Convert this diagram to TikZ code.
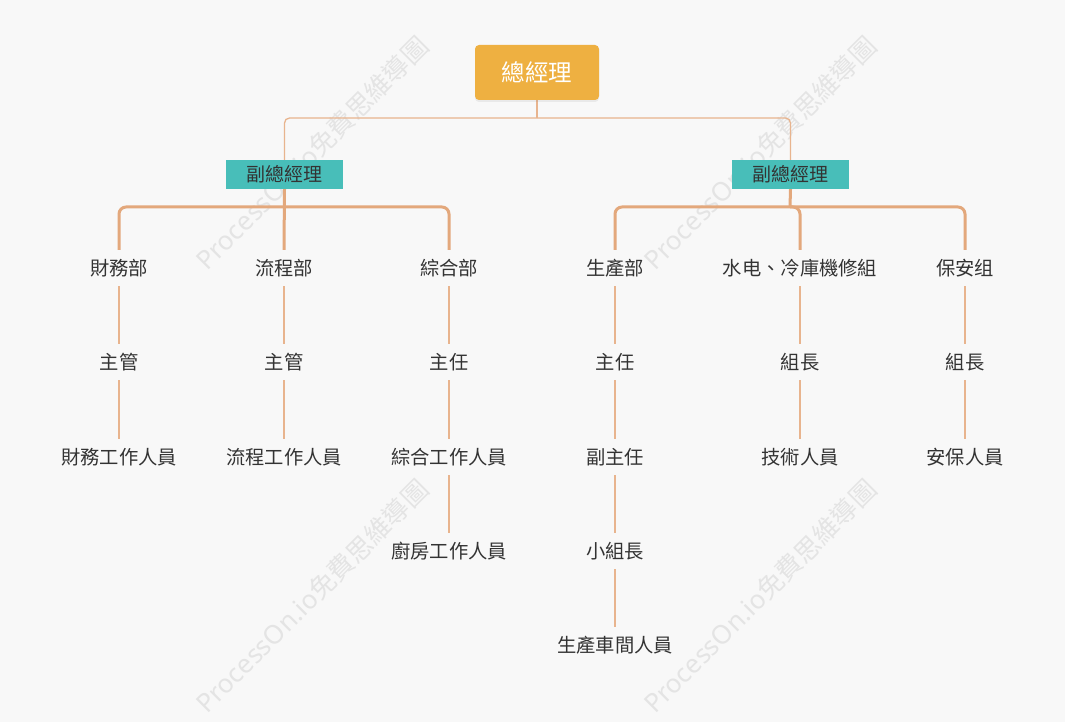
\documentclass[tikz,border=0pt]{standalone}
\usepackage{fontspec}
\newfontfamily\cjk{Noto Sans CJK TC}
\usetikzlibrary{shadows,backgrounds}
\definecolor{bg}{RGB}{248,248,248}
\definecolor{rootc}{RGB}{238,176,65}
\definecolor{vpc}{RGB}{72,190,185}
\definecolor{txt}{RGB}{51,51,51}
\definecolor{lnthin}{RGB}{232,180,142}
\definecolor{lnthick}{RGB}{227,168,124}
\definecolor{wm}{RGB}{228,228,228}
\begin{document}
\begin{tikzpicture}[x=1pt,y=1pt,
  lbl/.style={font=\cjk\fontsize{19.3}{19.3}\selectfont, text=txt, inner sep=0pt, minimum height=36pt},
  rootbox/.style={fill=rootc, rounded corners=4pt, minimum width=124pt, minimum height=55pt, inner sep=0pt,
    text=white, font=\cjk\fontsize{23.5}{23.5}\selectfont,
    drop shadow={opacity=0.12, shadow xshift=0pt, shadow yshift=-2pt}},
  vpbox/.style={fill=vpc, minimum width=117pt, minimum height=29pt, inner sep=0pt,
    text=txt, font=\cjk\fontsize{19}{19}\selectfont},
  thinln/.style={draw=lnthin, line width=1.3pt, rounded corners=5pt},
  thickln/.style={draw=lnthick, line width=3pt, rounded corners=7pt},
  wmark/.style={text=wm, font=\fontspec{Noto Sans}\fontsize{26}{26}\selectfont, rotate=45, inner sep=0pt}
]
\useasboundingbox (0,0) rectangle (1065,-722);

% nodes
\node[rootbox] (root) at (537,-72.5) {總經理};
\node[vpbox] (vpL) at (284.5,-174.5) {副總經理};
\node[vpbox] (vpR) at (790.5,-174.5) {副總經理};

\node[lbl] (d1) at (119,-268) {財務部};
\node[lbl] (d2) at (284,-268) {流程部};
\node[lbl] (d3) at (449,-268) {綜合部};
\node[lbl] (d4) at (615,-268) {生產部};
\node[lbl] (d5) at (800,-268) {水电、冷庫機修組};
\node[lbl] (d6) at (965,-268) {保安组};

\node[lbl] (m1) at (119,-362) {主管};
\node[lbl] (m2) at (284,-362) {主管};
\node[lbl] (m3) at (449,-362) {主任};
\node[lbl] (m4) at (615,-362) {主任};
\node[lbl] (m5) at (800,-362) {組長};
\node[lbl] (m6) at (965,-362) {組長};

\node[lbl] (s1) at (119,-457) {財務工作人員};
\node[lbl] (s2) at (284,-457) {流程工作人員};
\node[lbl] (s3) at (449,-457) {綜合工作人員};
\node[lbl] (s4) at (615,-457) {副主任};
\node[lbl] (s5) at (800,-457) {技術人員};
\node[lbl] (s6) at (965,-457) {安保人員};

\node[lbl] (k3) at (449,-551) {廚房工作人員};
\node[lbl] (k4) at (615,-551) {小組長};

\node[lbl] (p4) at (615,-645) {生產車間人員};

\coordinate (j) at (537,-118);
\coordinate (bL) at (284,-207);
\coordinate (bR) at (790,-207);

\begin{scope}[on background layer]
  \fill[bg] (0,0) rectangle (1065,-722);
  \node[wmark] (w1) at (312,-153) {ProcessOn.io\cjk 免費思維導圖};
  \node[wmark] (w2) at (760,-153) {ProcessOn.io\cjk 免費思維導圖};
  \node[wmark] (w3) at (312,-596) {ProcessOn.io\cjk 免費思維導圖};
  \node[wmark] (w4) at (760,-596) {ProcessOn.io\cjk 免費思維導圖};

  % root to VPs
  \draw[thinln] (root.south) -- (j);
  \draw[thinln] (j) -| (vpL.north);
  \draw[thinln] (j) -| (vpR.north);

  % VP left to departments
  \draw[thickln] (vpL.south) -- (d2.north);
  \draw[thickln] (bL) -| (d1.north);
  \draw[thickln] (bL) -| (d3.north);
  % VP right to departments
  \draw[thickln] (vpR.south) -- (bR);
  \draw[thickln] (bR) -| (d4.north);
  \draw[thickln] (bR) -| (d5.north);
  \draw[thickln] (bR) -| (d6.north);

  % chains
  \draw[thinln] (d1.south) -- (m1.north);
  \draw[thinln] (m1.south) -- (s1.north);
  \draw[thinln] (d2.south) -- (m2.north);
  \draw[thinln] (m2.south) -- (s2.north);
  \draw[thinln] (d3.south) -- (m3.north);
  \draw[thinln] (m3.south) -- (s3.north);
  \draw[thinln] (s3.south) -- (k3.north);
  \draw[thinln] (d4.south) -- (m4.north);
  \draw[thinln] (m4.south) -- (s4.north);
  \draw[thinln] (s4.south) -- (k4.north);
  \draw[thinln] (k4.south) -- (p4.north);
  \draw[thinln] (d5.south) -- (m5.north);
  \draw[thinln] (m5.south) -- (s5.north);
  \draw[thinln] (d6.south) -- (m6.north);
  \draw[thinln] (m6.south) -- (s6.north);
\end{scope}
\end{tikzpicture}
\end{document}
